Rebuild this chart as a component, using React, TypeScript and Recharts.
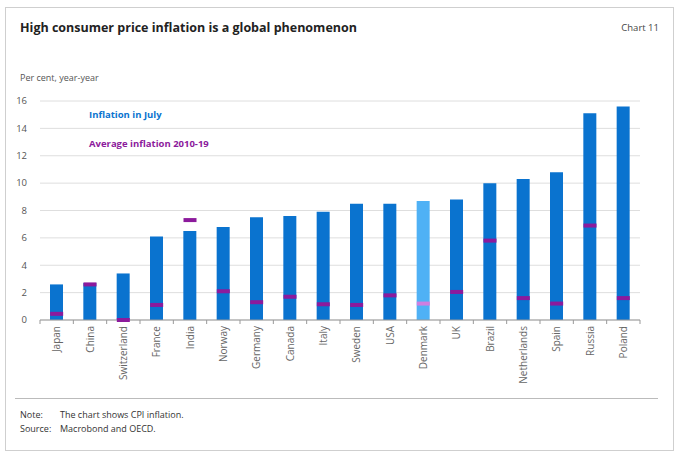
import { ComposedChart, Bar, Scatter, XAxis, YAxis, CartesianGrid, Cell, Legend } from "recharts";

const countries = [
  "Japan", "China", "Switzerland", "France", "India", "Norway", "Germany", "Canada", "Italy",
  "Sweden", "USA", "Denmark", "UK", "Brazil", "Netherlands", "Spain", "Russia", "Poland",
];
const julyInflation = [2.6, 2.7, 3.4, 6.1, 6.5, 6.8, 7.5, 7.6, 7.9, 8.5, 8.5, 8.7, 8.8, 10.0, 10.3, 10.8, 15.1, 15.6];
const avgInflation = [0.45, 2.6, 0.0, 1.1, 7.3, 2.1, 1.3, 1.7, 1.15, 1.1, 1.8, 1.2, 2.05, 5.8, 1.6, 1.2, 6.9, 1.6];
const yTicks = [0, 2, 4, 6, 8, 10, 12, 14, 16];

const data = countries.map((country, i) => ({
  country,
  july: julyInflation[i],
  avg: avgInflation[i],
}));

const BLUE = "#0a73cf";
const LIGHT_BLUE = "#4fb1f5";
const PURPLE = "#8c1a9c";
const LIGHT_PURPLE = "#cf7ee0";
const FONT = "'Open Sans', 'Noto Sans', sans-serif";

const W = 680;
const H = 400;
const M = { top: 101, right: 40, bottom: 0, left: 10 };
const BAND = (W - M.left - M.right - 30) / countries.length;

const CountryTick = (props: any) => {
  const { x, y, payload, index } = props;
  const axisY = y - 6;
  return (
    <g>
      {index === 0 && <line x1={x - BAND / 2} x2={x - BAND / 2} y1={axisY} y2={axisY + 4} stroke="#999" />}
      <line x1={x + BAND / 2} x2={x + BAND / 2} y1={axisY} y2={axisY + 4} stroke="#999" />
      <text
        x={x}
        y={y}
        dy="0.35em"
        textAnchor="end"
        transform={`rotate(-90, ${x}, ${y})`}
        fontSize={10}
        fill="#666"
        fontFamily={FONT}
      >
        {payload.value}
      </text>
    </g>
  );
};

const AvgMark = (props: any) => {
  const { cx, cy, payload } = props;
  if (cx == null || cy == null) return null;
  return (
    <rect
      x={cx - 6.5}
      y={cy - 2}
      width={13}
      height={4}
      fill={payload.country === "Denmark" ? LIGHT_PURPLE : PURPLE}
    />
  );
};

const LegendBox = () => (
  <div style={{ fontFamily: FONT, fontSize: 9.5, fontWeight: 700, lineHeight: "14px" }}>
    <div style={{ color: BLUE }}>Inflation in July</div>
    <div style={{ color: PURPLE, marginTop: 15 }}>Average inflation 2010-19</div>
  </div>
);

export default function App() {
  return (
    <div style={{ position: "absolute", left: 0, top: 0, width: W, height: 454, fontFamily: FONT, background: "#fff" }}>
      <div style={{ position: "absolute", left: 5, top: 7, width: 667, height: 442, border: "1px solid #cfcfcf" }} />
      <div style={{ position: "absolute", left: 20, top: 19, fontSize: 12.5, fontWeight: 700, color: "#222" }}>
        High consumer price inflation is a global phenomenon
      </div>
      <div style={{ position: "absolute", right: 21, top: 21, fontSize: 9.5, color: "#444" }}>Chart 11</div>
      <div style={{ position: "absolute", left: 20, top: 71, fontSize: 9, color: "#555" }}>Per cent, year-year</div>

      <div style={{ position: "absolute", left: 0, top: 0 }}>
        <ComposedChart width={W} height={H} data={data} margin={M}>
          <CartesianGrid vertical={false} stroke="#dedede" />
          <XAxis
            dataKey="country"
            interval={0}
            height={H - 320}
            tickLine={false}
            tickSize={0}
            tickMargin={6}
            axisLine={{ stroke: "#999" }}
            tick={<CountryTick />}
          />
          <YAxis
            width={30}
            domain={[0, 16]}
            ticks={yTicks}
            tickLine={false}
            axisLine={false}
            tickMargin={7}
            tick={{ fontSize: 9.5, fill: "#555", fontFamily: FONT }}
          />
          <Legend
            layout="horizontal"
            verticalAlign="middle"
            content={<LegendBox />}
            wrapperStyle={{ position: "absolute", left: 89, top: 108, width: "auto" }}
          />
          <Bar dataKey="july" name="Inflation in July" barSize={13} isAnimationActive={false}>
            {data.map((d) => (
              <Cell key={d.country} fill={d.country === "Denmark" ? LIGHT_BLUE : BLUE} />
            ))}
          </Bar>
          <Scatter dataKey="avg" name="Average inflation 2010-19" shape={<AvgMark />} isAnimationActive={false} />
        </ComposedChart>
      </div>

      <div style={{ position: "absolute", left: 15, top: 398, width: 643, borderTop: "1px solid #bbb" }} />
      <div style={{ position: "absolute", left: 20, top: 408, fontSize: 9, color: "#333", lineHeight: "14px" }}>
        <div>
          <span style={{ display: "inline-block", width: 40 }}>Note:</span>The chart shows CPI inflation.
        </div>
        <div>
          <span style={{ display: "inline-block", width: 40 }}>Source:</span>Macrobond and OECD.
        </div>
      </div>
    </div>
  );
}
